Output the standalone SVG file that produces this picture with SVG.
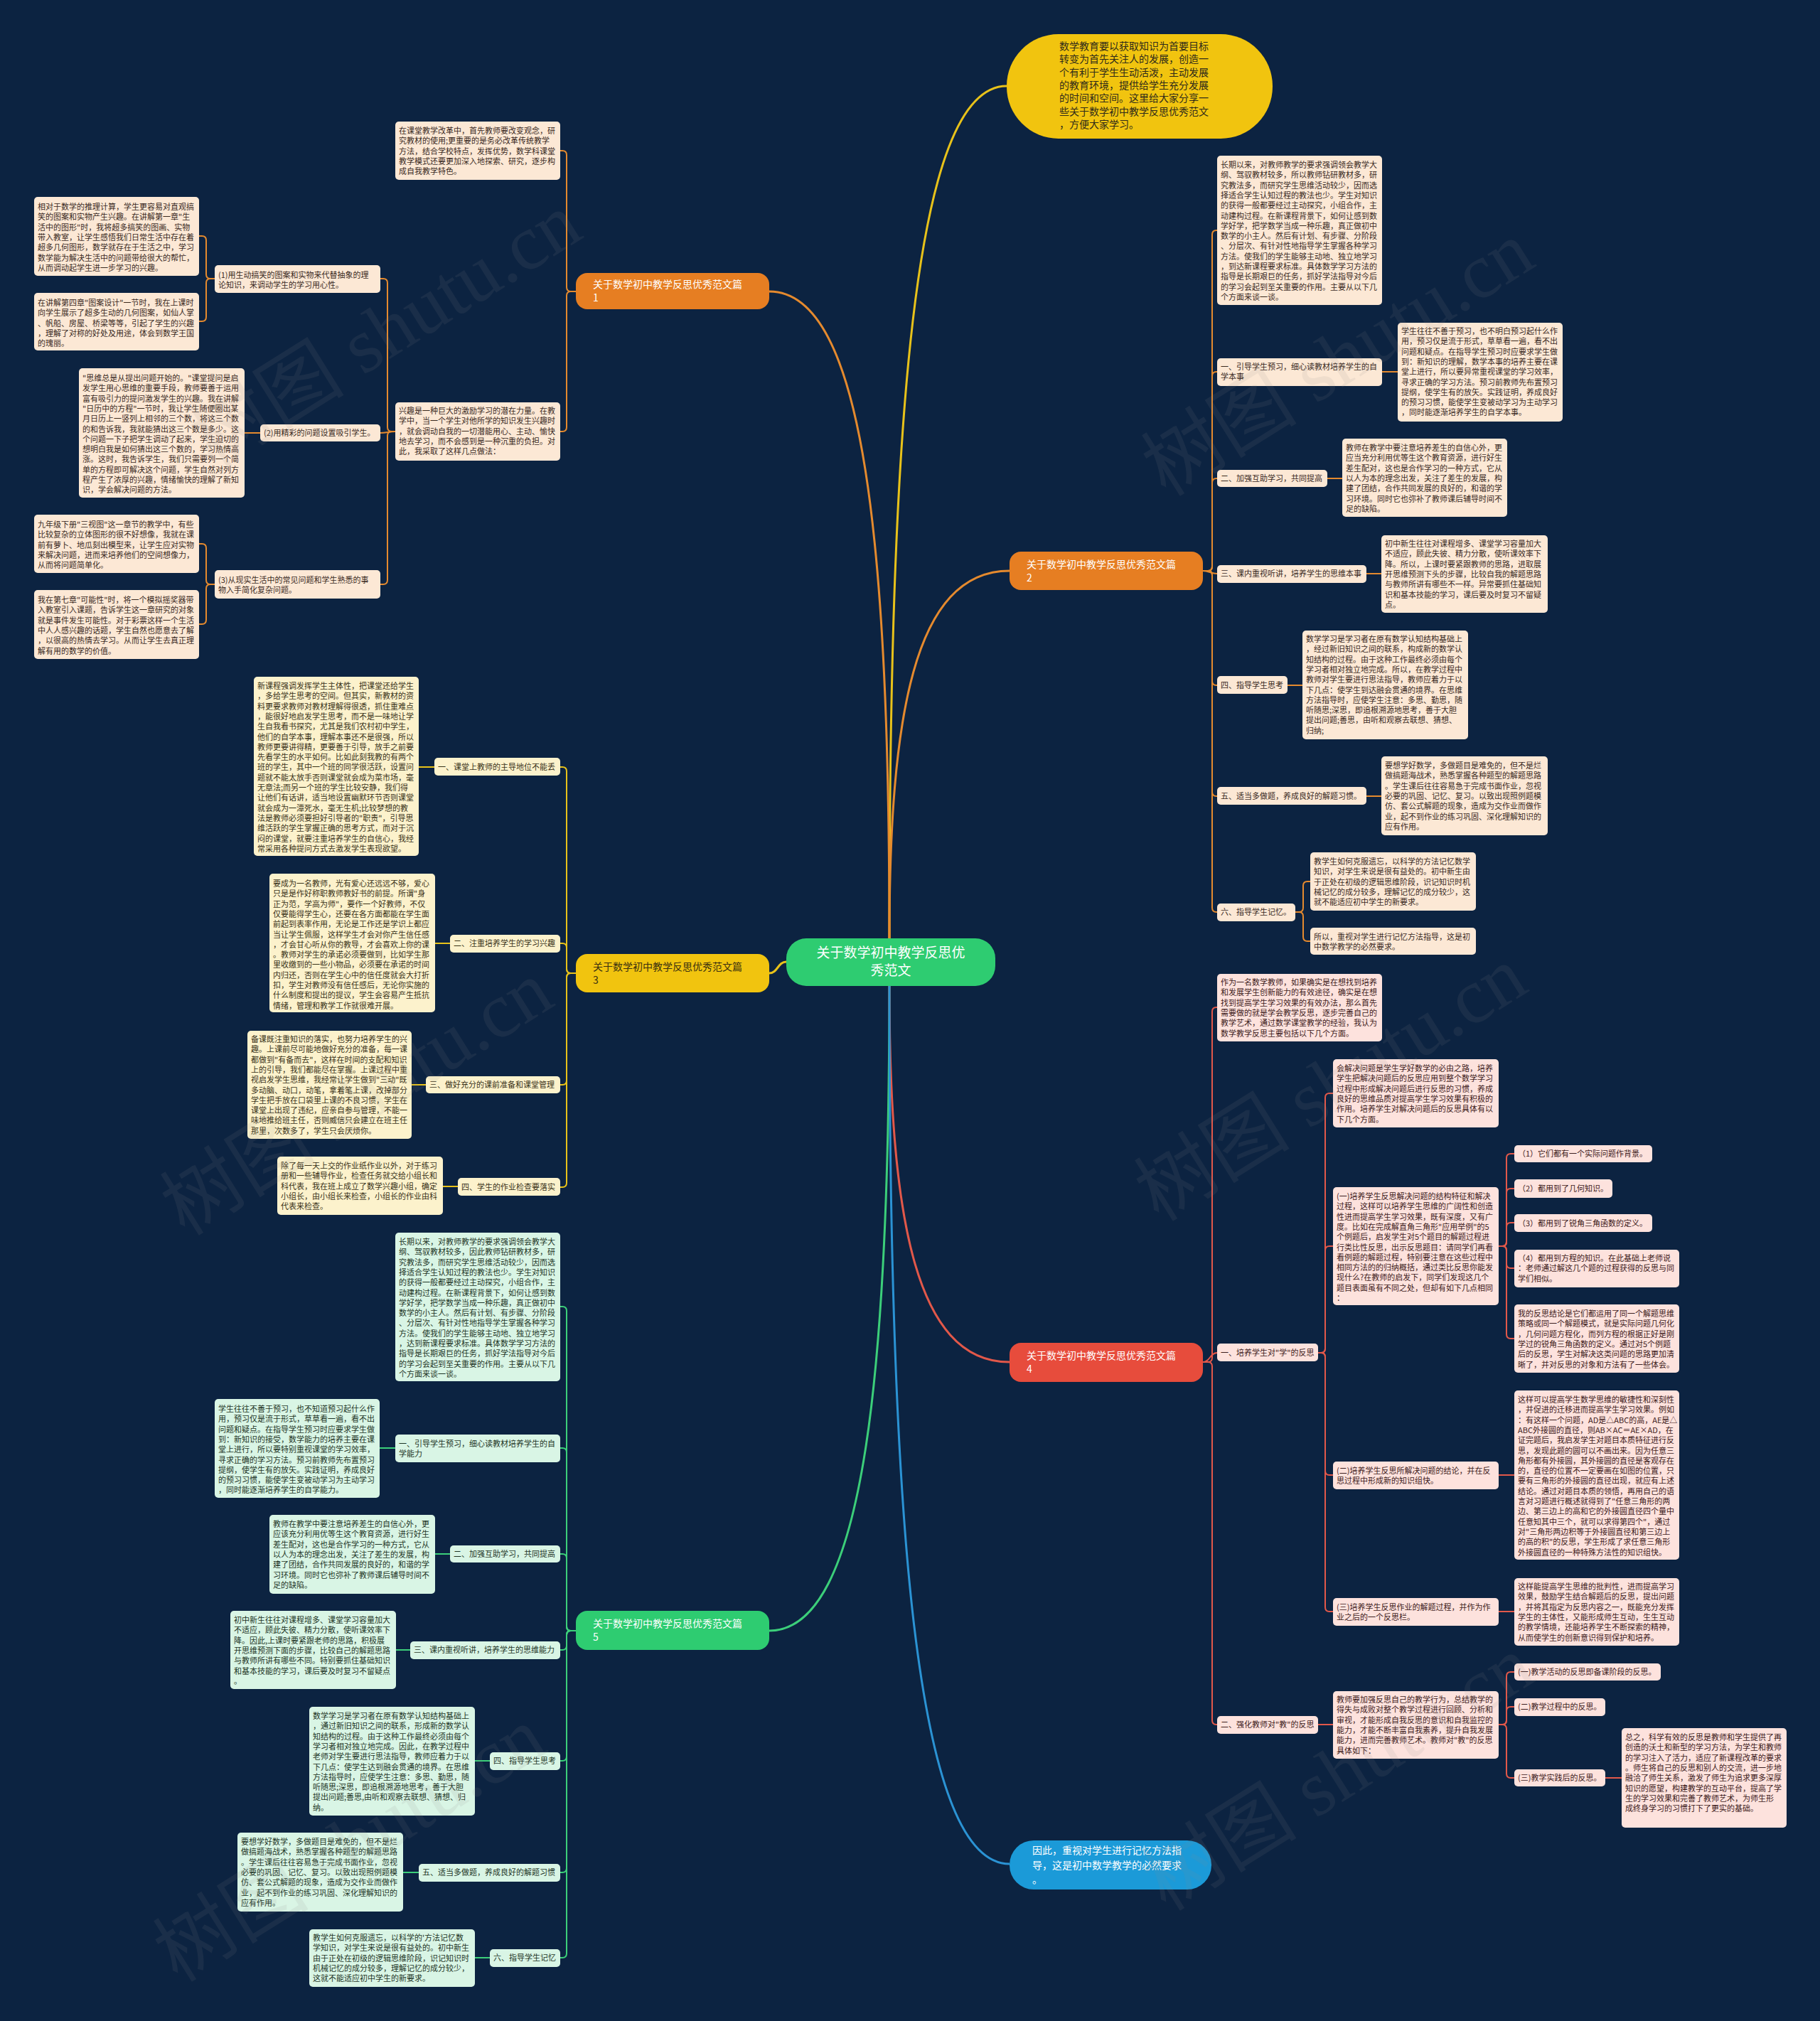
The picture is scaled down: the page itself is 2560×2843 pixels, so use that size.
<svg xmlns="http://www.w3.org/2000/svg" width="2560" height="2843" viewBox="0 0 2560 2843">
<style>
.t{font-family:"Noto Sans CJK SC","Noto Sans",sans-serif;font-size:11px;fill:#3a2a1e}
.tg{fill:#1e3527}
.tr{fill:#3d2020}
.ty{fill:#3a3318}
.bo{fill:#fce8d5}
.by{fill:#fcf2cc}
.br{fill:#fde2dd}
.bg{fill:#d9f5e5}
.n{font-family:"Noto Sans CJK SC","Noto Sans",sans-serif;font-size:14px}
.c{fill:none;stroke-width:2}
.co{stroke:#e58a2e}
.cy{stroke:#e8c21a}
.cr{stroke:#e2584a}
.cg{stroke:#3ccf7a}
.cb{stroke:#2b93d4}
.m{fill:none;stroke-width:3}
.wm{font-family:"Liberation Serif","Noto Sans CJK SC",serif;font-size:110px;fill:#8a8a8a;opacity:0.11}
</style>
<rect x="0" y="0" width="2560" height="2843" fill="#0c2341"/>

<g id="connectors">
<path class="m cy" d="M1251,1322 C1251,601 1284,121 1416,121"/>
<path class="m co" d="M1251,1322 C1251,1009 1285,803 1420,803"/>
<path class="m co" d="M1251,1322 C1251,775 1217,410 1082,410"/>
<path class="m cy" d="M1106,1353 C1094,1353 1094,1369 1082,1369"/>
<path class="m cg" d="M1251,1385 C1251,1920 1217,2294 1082,2294"/>
<path class="m cr" d="M1251,1385 C1251,1704 1285,1916 1420,1916"/>
<path class="m cb" d="M1251,1385 C1251,2120 1285,2622 1420,2622"/>

<path class="c co" d="M1692,803 H1699 Q1705,803 1705,797 V330 Q1705,324 1711,324 H1712"/>
<path class="c co" d="M1692,803 H1699 Q1705,803 1705,797 V529 Q1705,523 1711,523 H1712"/>
<path class="c co" d="M1692,803 H1699 Q1705,803 1705,797 V679 Q1705,673 1711,673 H1712"/>
<path class="c co" d="M1692,803 C1700,803 1704,807 1712,807"/>
<path class="c co" d="M1692,803 H1699 Q1705,803 1705,809 V958 Q1705,964 1711,964 H1712"/>
<path class="c co" d="M1692,803 H1699 Q1705,803 1705,809 V1114 Q1705,1120 1711,1120 H1712"/>
<path class="c co" d="M1692,803 H1699 Q1705,803 1705,809 V1277 Q1705,1283 1711,1283 H1712"/>
<path class="c co" d="M1944,523 H1966 M1867,673 H1888 M1922,807 H1943 M1811,964 H1832 M1922,1120 H1943"/>
<path class="c co" d="M1822,1283 H1827 Q1833,1283 1833,1277 V1246 Q1833,1240 1839,1240 H1843"/>
<path class="c co" d="M1822,1283 H1827 Q1833,1283 1833,1289 V1318 Q1833,1324 1839,1324 H1843"/>

<path class="c co" d="M810,410 H803 Q797,410 797,404 V218 Q797,212 791,212 H788"/>
<path class="c co" d="M810,410 H803 Q797,410 797,416 V601 Q797,607 791,607 H788"/>
<path class="c co" d="M556,607 H551 Q545,607 545,601 V398 Q545,392 539,392 H535"/>
<path class="c co" d="M556,607 C548,607 543,609 535,609"/>
<path class="c co" d="M556,607 H551 Q545,607 545,613 V816 Q545,822 539,822 H535"/>
<path class="c co" d="M302,392 H296 Q290,392 290,386 V338 Q290,332 284,332 H280"/>
<path class="c co" d="M302,392 H296 Q290,392 290,398 V446 Q290,452 284,452 H280"/>
<path class="c co" d="M366,609 H344"/>
<path class="c co" d="M302,822 H296 Q290,822 290,816 V771 Q290,765 284,765 H280"/>
<path class="c co" d="M302,822 H296 Q290,822 290,828 V872 Q290,878 284,878 H280"/>

<path class="c cy" d="M810,1369 H803 Q797,1369 797,1363 V1085 Q797,1079 791,1079 H788"/>
<path class="c cy" d="M810,1369 H803 Q797,1369 797,1363 V1333 Q797,1327 791,1327 H788"/>
<path class="c cy" d="M810,1369 H803 Q797,1369 797,1375 V1520 Q797,1526 791,1526 H788"/>
<path class="c cy" d="M810,1369 H803 Q797,1369 797,1375 V1664 Q797,1670 791,1670 H788"/>
<path class="c cy" d="M611,1079 H589 M633,1327 H612 M599,1526 H579 M644,1669 H623"/>

<path class="c cg" d="M810,2294 H803 Q797,2294 797,2288 V1844 Q797,1838 791,1838 H788"/>
<path class="c cg" d="M810,2294 H803 Q797,2294 797,2288 V2043 Q797,2037 791,2037 H788"/>
<path class="c cg" d="M810,2294 H803 Q797,2294 797,2288 V2192 Q797,2186 791,2186 H788"/>
<path class="c cg" d="M810,2294 H803 Q797,2294 797,2300 V2315 Q797,2321 791,2321 H788"/>
<path class="c cg" d="M810,2294 H803 Q797,2294 797,2300 V2471 Q797,2477 791,2477 H788"/>
<path class="c cg" d="M810,2294 H803 Q797,2294 797,2300 V2628 Q797,2634 791,2634 H788"/>
<path class="c cg" d="M810,2294 H803 Q797,2294 797,2300 V2748 Q797,2754 791,2754 H788"/>
<path class="c cg" d="M556,2037 H534 M633,2186 H612 M577,2321 H557 M689,2477 H668 M589,2634 H567 M689,2754 H668"/>

<path class="c cr" d="M1692,1916 H1699 Q1705,1916 1705,1910 V1423 Q1705,1417 1711,1417 H1712"/>
<path class="c cr" d="M1692,1916 C1702,1916 1702,1903 1712,1903"/>
<path class="c cr" d="M1692,1916 H1699 Q1705,1916 1705,1922 V2420 Q1705,2426 1711,2426 H1712"/>
<path class="c cr" d="M1854,1903 H1858 Q1864,1903 1864,1897 V1544 Q1864,1538 1870,1538 H1875"/>
<path class="c cr" d="M1854,1903 H1858 Q1864,1903 1864,1897 V1759 Q1864,1753 1870,1753 H1875"/>
<path class="c cr" d="M1854,1903 H1858 Q1864,1903 1864,1909 V2069 Q1864,2075 1870,2075 H1875"/>
<path class="c cr" d="M1854,1903 H1858 Q1864,1903 1864,1909 V2261 Q1864,2267 1870,2267 H1875"/>
<path class="c cr" d="M2108,1753 H2113 Q2119,1753 2119,1747 V1629 Q2119,1623 2125,1623 H2130"/>
<path class="c cr" d="M2108,1753 H2113 Q2119,1753 2119,1747 V1678 Q2119,1672 2125,1672 H2130"/>
<path class="c cr" d="M2108,1753 H2113 Q2119,1753 2119,1747 V1726 Q2119,1720 2125,1720 H2130"/>
<path class="c cr" d="M2108,1753 H2113 Q2119,1753 2119,1759 V1778 Q2119,1784 2125,1784 H2130"/>
<path class="c cr" d="M2108,1753 H2113 Q2119,1753 2119,1759 V1877 Q2119,1883 2125,1883 H2130"/>
<path class="c cr" d="M2108,2075 H2130 M2108,2267 H2130 M1854,2426 H1875 M2258,2501 H2281"/>
<path class="c cr" d="M2108,2426 H2113 Q2119,2426 2119,2420 V2358 Q2119,2352 2125,2352 H2130"/>
<path class="c cr" d="M2108,2426 H2113 Q2119,2426 2119,2420 V2407 Q2119,2401 2125,2401 H2130"/>
<path class="c cr" d="M2108,2426 H2113 Q2119,2426 2119,2432 V2495 Q2119,2501 2125,2501 H2130"/>
</g>

<g id="center">
<rect x="1106" y="1320" width="294" height="67" rx="28" fill="#2ecc71"/>
<text class="n" x="1253" y="1347" text-anchor="middle" style="font-size:19px;fill:#ffffff"><tspan x="1253">关于数学初中教学反思优</tspan><tspan x="1253" dy="25">秀范文</tspan></text>
</g>

<g id="intro">
<rect x="1416" y="48" width="374" height="147" rx="73" fill="#f1c40f"/>
<text class="n" x="1490" y="70" style="fill:#2e2a1a"><tspan x="1490">数学教育要以获取知识为首要目标</tspan><tspan x="1490" dy="18.3">转变为首先关注人的发展，创造一</tspan><tspan x="1490" dy="18.3">个有利于学生生动活泼，主动发展</tspan><tspan x="1490" dy="18.3">的教育环境，提供给学生充分发展</tspan><tspan x="1490" dy="18.3">的时间和空间。这里给大家分享一</tspan><tspan x="1490" dy="18.3">些关于数学初中教学反思优秀范文</tspan><tspan x="1490" dy="18.3">，方便大家学习。</tspan></text>
</g>

<g id="ending">
<rect x="1420" y="2589" width="284" height="69" rx="34" fill="#1b9ad8"/>
<text class="n" x="1452" y="2608" style="fill:#ffffff"><tspan x="1452">因此，重视对学生进行记忆方法指</tspan><tspan x="1452" dy="20.5">导，这是初中数学教学的必然要求</tspan><tspan x="1452" dy="20.5">。</tspan></text>
</g>

<g id="b1">
<rect x="810" y="384" width="272" height="51" rx="16" fill="#e67e22"/>
<text class="n" x="834" y="405" style="fill:#ffffff"><tspan x="834">关于数学初中教学反思优秀范文篇</tspan><tspan x="834" dy="19">1</tspan></text>
</g>
<g id="b1-a">
<rect class="bo" x="556" y="171" width="232" height="82" rx="5"/>
<text class="t" x="561" y="188"><tspan x="561">在课堂教学改革中，首先教师要改变观念，研</tspan><tspan x="561" dy="14.3">究教材的使用;更重要的是务必改革传统教学</tspan><tspan x="561" dy="14.3">方法，结合学校特点，发挥优势，数学科课堂</tspan><tspan x="561" dy="14.3">教学模式还要更加深入地探索、研究，逐步构</tspan><tspan x="561" dy="14.3">成自我教学特色。</tspan></text>
</g>
<g id="b1-b">
<rect class="bo" x="556" y="566" width="232" height="82" rx="5"/>
<text class="t" x="561" y="582"><tspan x="561">兴趣是一种巨大的激励学习的潜在力量。在教</tspan><tspan x="561" dy="14.3">学中，当一个学生对他所学的知识发生兴趣时</tspan><tspan x="561" dy="14.3">，就会调动自我的一切潜能用心、主动、愉快</tspan><tspan x="561" dy="14.3">地去学习，而不会感到是一种沉重的负担。对</tspan><tspan x="561" dy="14.3">此，我采取了这样几点做法：</tspan></text>
</g>
<g id="b1-l1">
<rect class="bo" x="302" y="373" width="233" height="39" rx="5"/>
<text class="t" x="307" y="391"><tspan x="307">(1)用生动搞笑的图案和实物来代替抽象的理</tspan><tspan x="307" dy="14.3">论知识，来调动学生的学习用心性。</tspan></text>
</g>
<g id="b1-l2">
<rect class="bo" x="366" y="597" width="169" height="24" rx="5"/>
<text class="t" x="371" y="613">(2)用精彩的问题设置吸引学生。</text>
</g>
<g id="b1-l3">
<rect class="bo" x="302" y="802" width="233" height="40" rx="5"/>
<text class="t" x="307" y="820"><tspan x="307">(3)从现实生活中的常见问题和学生熟悉的事</tspan><tspan x="307" dy="14.3">物入手简化复杂问题。</tspan></text>
</g>
<g id="b1-t1a">
<rect class="bo" x="48" y="277" width="232" height="111" rx="5"/>
<text class="t" x="53" y="295"><tspan x="53">相对于数学的推理计算，学生更容易对直观搞</tspan><tspan x="53" dy="14.3">笑的图案和实物产生兴趣。在讲解第一章"生</tspan><tspan x="53" dy="14.3">活中的图形"时，我将超多搞笑的图画、实物</tspan><tspan x="53" dy="14.3">带入教室，让学生感悟我们日常生活中存在着</tspan><tspan x="53" dy="14.3">超多几何图形，数学就存在于生活之中，学习</tspan><tspan x="53" dy="14.3">数学能为解决生活中的问题带给很大的帮忙，</tspan><tspan x="53" dy="14.3">从而调动起学生进一步学习的兴趣。</tspan></text>
</g>
<g id="b1-t1b">
<rect class="bo" x="48" y="412" width="232" height="81" rx="5"/>
<text class="t" x="53" y="430"><tspan x="53">在讲解第四章"图案设计"一节时，我在上课时</tspan><tspan x="53" dy="14.3">向学生展示了超多生动的几何图案，如仙人掌</tspan><tspan x="53" dy="14.3">、帆船、房屋、桥梁等等，引起了学生的兴趣</tspan><tspan x="53" dy="14.3">，理解了对称的好处及用途，体会到数学王国</tspan><tspan x="53" dy="14.3">的瑰丽。</tspan></text>
</g>
<g id="b1-t2a">
<rect class="bo" x="111" y="518" width="233" height="182" rx="5"/>
<text class="t" x="116" y="536"><tspan x="116">"思维总是从提出问题开始的。"课堂提问是启</tspan><tspan x="116" dy="14.3">发学生用心思维的重要手段，教师要善于运用</tspan><tspan x="116" dy="14.3">富有吸引力的提问激发学生的兴趣。我在讲解</tspan><tspan x="116" dy="14.3">"日历中的方程"一节时，我让学生随便圈出某</tspan><tspan x="116" dy="14.3">月日历上一竖列上相邻的三个数，将这三个数</tspan><tspan x="116" dy="14.3">的和告诉我，我就能猜出这三个数是多少。这</tspan><tspan x="116" dy="14.3">个问题一下子把学生调动了起来，学生迫切的</tspan><tspan x="116" dy="14.3">想明白我是如何猜出这三个数的，学习热情高</tspan><tspan x="116" dy="14.3">涨。这时，我告诉学生，我们只需要列一个简</tspan><tspan x="116" dy="14.3">单的方程即可解决这个问题，学生自然对列方</tspan><tspan x="116" dy="14.3">程产生了浓厚的兴趣，情绪愉快的理解了新知</tspan><tspan x="116" dy="14.3">识，学会解决问题的方法。</tspan></text>
</g>
<g id="b1-t3a">
<rect class="bo" x="48" y="724" width="232" height="82" rx="5"/>
<text class="t" x="53" y="742"><tspan x="53">九年级下册"三视图"这一章节的教学中，有些</tspan><tspan x="53" dy="14.3">比较复杂的立体图形的很不好想像，我就在课</tspan><tspan x="53" dy="14.3">前有萝卜、地瓜刻出模型来，让学生应对实物</tspan><tspan x="53" dy="14.3">来解决问题，进而来培养他们的空间想像力，</tspan><tspan x="53" dy="14.3">从而将问题简单化。</tspan></text>
</g>
<g id="b1-t3b">
<rect class="bo" x="48" y="830" width="232" height="97" rx="5"/>
<text class="t" x="53" y="848"><tspan x="53">我在第七章"可能性"时，将一个模拟摇奖器带</tspan><tspan x="53" dy="14.3">入教室引入课题，告诉学生这一章研究的对象</tspan><tspan x="53" dy="14.3">就是事件发生可能性。对于彩票这样一个生活</tspan><tspan x="53" dy="14.3">中人人感兴趣的话题，学生自然也愿意去了解</tspan><tspan x="53" dy="14.3">，以很高的热情去学习。从而让学生去真正理</tspan><tspan x="53" dy="14.3">解有用的数学的价值。</tspan></text>
</g>

<g id="b2">
<rect x="1420" y="776" width="272" height="54" rx="16" fill="#e67e22"/>
<text class="n" x="1444" y="799" style="fill:#ffffff"><tspan x="1444">关于数学初中教学反思优秀范文篇</tspan><tspan x="1444" dy="19">2</tspan></text>
</g>
<g id="b2-intro">
<rect class="bo" x="1712" y="219" width="232" height="210" rx="5"/>
<text class="t" x="1717" y="236"><tspan x="1717">长期以来，对教师教学的要求强调领会教学大</tspan><tspan x="1717" dy="14.3">纲、驾驭教材较多，所以教师钻研教材多，研</tspan><tspan x="1717" dy="14.3">究教法多，而研究学生思维活动较少，因而选</tspan><tspan x="1717" dy="14.3">择适合学生认知过程的教法也少。学生对知识</tspan><tspan x="1717" dy="14.3">的获得一般都要经过主动探究，小组合作，主</tspan><tspan x="1717" dy="14.3">动建构过程。在新课程背景下，如何让感到数</tspan><tspan x="1717" dy="14.3">学好学，把学数学当成一种乐趣，真正做初中</tspan><tspan x="1717" dy="14.3">数学的小主人。然后有计划、有步骤、分阶段</tspan><tspan x="1717" dy="14.3">、分层次、有针对性地指导学生掌握各种学习</tspan><tspan x="1717" dy="14.3">方法。使我们的学生能够主动地、独立地学习</tspan><tspan x="1717" dy="14.3">，到达新课程要求标准。具体数学学习方法的</tspan><tspan x="1717" dy="14.3">指导是长期艰巨的任务，抓好学法指导对今后</tspan><tspan x="1717" dy="14.3">的学习会起到至关重要的作用。主要从以下几</tspan><tspan x="1717" dy="14.3">个方面来谈一谈。</tspan></text>
</g>
<g id="b2-l1">
<rect class="bo" x="1712" y="504" width="232" height="39" rx="5"/>
<text class="t" x="1717" y="520"><tspan x="1717">一、引导学生预习，细心读教材培养学生的自</tspan><tspan x="1717" dy="14.3">学本事</tspan></text>
</g>
<g id="b2-t1">
<rect class="bo" x="1966" y="454" width="232" height="139" rx="5"/>
<text class="t" x="1971" y="470"><tspan x="1971">学生往往不善于预习，也不明白预习起什么作</tspan><tspan x="1971" dy="14.3">用，预习仅是流于形式，草草看一遍，看不出</tspan><tspan x="1971" dy="14.3">问题和疑点。在指导学生预习时应要求学生做</tspan><tspan x="1971" dy="14.3">到：新知识的理解，数学本事的培养主要在课</tspan><tspan x="1971" dy="14.3">堂上进行，所以要异常重视课堂的学习效率，</tspan><tspan x="1971" dy="14.3">寻求正确的学习方法。预习前教师先布置预习</tspan><tspan x="1971" dy="14.3">提纲，使学生有的放矢。实践证明，养成良好</tspan><tspan x="1971" dy="14.3">的预习习惯，能使学生变被动学习为主动学习</tspan><tspan x="1971" dy="14.3">，同时能逐渐培养学生的自学本事。</tspan></text>
</g>
<g id="b2-l2">
<rect class="bo" x="1712" y="661" width="155" height="24" rx="5"/>
<text class="t" x="1717" y="677">二、加强互助学习，共同提高</text>
</g>
<g id="b2-t2">
<rect class="bo" x="1888" y="617" width="232" height="110" rx="5"/>
<text class="t" x="1893" y="634"><tspan x="1893">教师在教学中要注意培养差生的自信心外，更</tspan><tspan x="1893" dy="14.3">应当充分利用优等生这个教育资源，进行好生</tspan><tspan x="1893" dy="14.3">差生配对，这也是合作学习的一种方式，它从</tspan><tspan x="1893" dy="14.3">以人为本的理念出发，关注了差生的发展，构</tspan><tspan x="1893" dy="14.3">建了团结，合作共同发展的良好的，和谐的学</tspan><tspan x="1893" dy="14.3">习环境。同时它也弥补了教师课后辅导时间不</tspan><tspan x="1893" dy="14.3">足的缺陷。</tspan></text>
</g>
<g id="b2-l3">
<rect class="bo" x="1712" y="795" width="210" height="25" rx="5"/>
<text class="t" x="1717" y="811">三、课内重视听讲，培养学生的思维本事</text>
</g>
<g id="b2-t3">
<rect class="bo" x="1943" y="753" width="234" height="109" rx="5"/>
<text class="t" x="1948" y="769"><tspan x="1948">初中新生往往对课程增多、课堂学习容量加大</tspan><tspan x="1948" dy="14.3">不适应，顾此失彼、精力分散，使听课效率下</tspan><tspan x="1948" dy="14.3">降。所以，上课时要紧跟教师的思路，进取展</tspan><tspan x="1948" dy="14.3">开思维预测下头的步骤，比较自我的解题思路</tspan><tspan x="1948" dy="14.3">与教师所讲有哪些不一样。异常要抓住基础知</tspan><tspan x="1948" dy="14.3">识和基本技能的学习，课后要及时复习不留疑</tspan><tspan x="1948" dy="14.3">点。</tspan></text>
</g>
<g id="b2-l4">
<rect class="bo" x="1712" y="951" width="99" height="25" rx="5"/>
<text class="t" x="1717" y="968">四、指导学生思考</text>
</g>
<g id="b2-t4">
<rect class="bo" x="1832" y="887" width="233" height="153" rx="5"/>
<text class="t" x="1837" y="903"><tspan x="1837">数学学习是学习者在原有数学认知结构基础上</tspan><tspan x="1837" dy="14.3">，经过新旧知识之间的联系，构成新的数学认</tspan><tspan x="1837" dy="14.3">知结构的过程。由于这种工作最终必须由每个</tspan><tspan x="1837" dy="14.3">学习者相对独立地完成。所以，在教学过程中</tspan><tspan x="1837" dy="14.3">教师对学生要进行思法指导，教师应着力于以</tspan><tspan x="1837" dy="14.3">下几点：使学生到达融会贯通的境界。在思维</tspan><tspan x="1837" dy="14.3">方法指导时，应使学生注意：多思、勤思，随</tspan><tspan x="1837" dy="14.3">听随思;深思，即追根溯源地思考，善于大胆</tspan><tspan x="1837" dy="14.3">提出问题;善思，由听和观察去联想、猜想、</tspan><tspan x="1837" dy="14.3">归纳;</tspan></text>
</g>
<g id="b2-l5">
<rect class="bo" x="1712" y="1107" width="210" height="25" rx="5"/>
<text class="t" x="1717" y="1124">五、适当多做题，养成良好的解题习惯。</text>
</g>
<g id="b2-t5">
<rect class="bo" x="1943" y="1064" width="234" height="111" rx="5"/>
<text class="t" x="1948" y="1081"><tspan x="1948">要想学好数学，多做题目是难免的，但不是烂</tspan><tspan x="1948" dy="14.3">做搞题海战术，熟悉掌握各种题型的解题思路</tspan><tspan x="1948" dy="14.3">。学生课后往往容易急于完成书面作业，忽视</tspan><tspan x="1948" dy="14.3">必要的巩固、记忆、复习。以致出现照例题模</tspan><tspan x="1948" dy="14.3">仿、套公式解题的现象，造成为交作业而做作</tspan><tspan x="1948" dy="14.3">业，起不到作业的练习巩固、深化理解知识的</tspan><tspan x="1948" dy="14.3">应有作用。</tspan></text>
</g>
<g id="b2-l6">
<rect class="bo" x="1712" y="1271" width="110" height="25" rx="5"/>
<text class="t" x="1717" y="1287">六、指导学生记忆。</text>
</g>
<g id="b2-t6a">
<rect class="bo" x="1843" y="1199" width="233" height="82" rx="5"/>
<text class="t" x="1848" y="1216"><tspan x="1848">教学生如何克服遗忘，以科学的方法记忆数学</tspan><tspan x="1848" dy="14.3">知识，对学生来说是很有益处的。初中新生由</tspan><tspan x="1848" dy="14.3">于正处在初级的逻辑思维阶段，识记知识时机</tspan><tspan x="1848" dy="14.3">械记忆的成分较多，理解记忆的成分较少，这</tspan><tspan x="1848" dy="14.3">就不能适应初中学生的新要求。</tspan></text>
</g>
<g id="b2-t6b">
<rect class="bo" x="1843" y="1305" width="233" height="38" rx="5"/>
<text class="t" x="1848" y="1322"><tspan x="1848">所以，重视对学生进行记忆方法指导，这是初</tspan><tspan x="1848" dy="14.3">中数学教学的必然要求。</tspan></text>
</g>

<g id="b3">
<rect x="810" y="1342" width="272" height="54" rx="16" fill="#f1c40f"/>
<text class="n" x="834" y="1365" style="fill:#3a3010"><tspan x="834">关于数学初中教学反思优秀范文篇</tspan><tspan x="834" dy="19">3</tspan></text>
</g>
<g id="b3-t1">
<rect class="by" x="357" y="952" width="232" height="252" rx="5"/>
<text class="t ty" x="362" y="969"><tspan x="362">新课程强调发挥学生主体性，把课堂还给学生</tspan><tspan x="362" dy="14.3">，多给学生思考的空间。但其实，新教材的资</tspan><tspan x="362" dy="14.3">料更要求教师对教材理解得很透，抓住重难点</tspan><tspan x="362" dy="14.3">，能很好地启发学生思考，而不是一味地让学</tspan><tspan x="362" dy="14.3">生自我看书探究，尤其是我们农村初中学生，</tspan><tspan x="362" dy="14.3">他们的自学本事，理解本事还不是很强，所以</tspan><tspan x="362" dy="14.3">教师更要讲得精，更要善于引导，放手之前要</tspan><tspan x="362" dy="14.3">先看学生的水平如何。比如此刻我教的有两个</tspan><tspan x="362" dy="14.3">班的学生，其中一个班的同学很活跃，设置问</tspan><tspan x="362" dy="14.3">题就不能太放手否则课堂就会成为菜市场，毫</tspan><tspan x="362" dy="14.3">无章法;而另一个班的学生比较安静，我们得</tspan><tspan x="362" dy="14.3">让他们有话讲，适当地设置幽默环节否则课堂</tspan><tspan x="362" dy="14.3">就会成为一潭死水，毫无生机;比较梦想的教</tspan><tspan x="362" dy="14.3">法是教师必须要担好引导者的"职责"，引导思</tspan><tspan x="362" dy="14.3">维活跃的学生掌握正确的思考方式，而对于沉</tspan><tspan x="362" dy="14.3">闷的课堂，就要注重培养学生的自信心，我经</tspan><tspan x="362" dy="14.3">常采用各种提问方式去激发学生表现欲望。</tspan></text>
</g>
<g id="b3-l1">
<rect class="by" x="611" y="1066" width="177" height="25" rx="5"/>
<text class="t ty" x="616" y="1083">一、课堂上教师的主导地位不能丢</text>
</g>
<g id="b3-t2">
<rect class="by" x="379" y="1229" width="233" height="195" rx="5"/>
<text class="t ty" x="384" y="1247"><tspan x="384">要成为一名教师，光有爱心还远远不够，爱心</tspan><tspan x="384" dy="14.3">只是是作好称职教师教好书的前提。所谓"身</tspan><tspan x="384" dy="14.3">正为范，学高为师"，要作一个好教师，不仅</tspan><tspan x="384" dy="14.3">仅要能得学生心，还要在各方面都能在学生面</tspan><tspan x="384" dy="14.3">前起到表率作用，无论是工作还是学识上都应</tspan><tspan x="384" dy="14.3">当让学生佩服，这样学生才会对你产生信任感</tspan><tspan x="384" dy="14.3">，才会甘心听从你的教导，才会喜欢上你的课</tspan><tspan x="384" dy="14.3">。教师对学生的承诺必须要做到，比如学生那</tspan><tspan x="384" dy="14.3">里收缴到的一些小物品，必须要在承诺的时间</tspan><tspan x="384" dy="14.3">内归还，否则在学生心中的信任度就会大打折</tspan><tspan x="384" dy="14.3">扣，学生对教师没有信任感后，无论你实施的</tspan><tspan x="384" dy="14.3">什么制度和提出的提议，学生会容易产生抵抗</tspan><tspan x="384" dy="14.3">情绪，管理和教学工作就很难开展。</tspan></text>
</g>
<g id="b3-l2">
<rect class="by" x="633" y="1315" width="155" height="25" rx="5"/>
<text class="t ty" x="638" y="1331">二、注重培养学生的学习兴趣</text>
</g>
<g id="b3-t3">
<rect class="by" x="348" y="1450" width="231" height="152" rx="5"/>
<text class="t ty" x="353" y="1466"><tspan x="353">备课既注重知识的落实，也努力培养学生的兴</tspan><tspan x="353" dy="14.3">趣。上课前尽可能地做好充分的准备，每一课</tspan><tspan x="353" dy="14.3">都做到"有备而去"，这样在时间的支配和知识</tspan><tspan x="353" dy="14.3">上的引导，我们都能尽在掌握。上课过程中重</tspan><tspan x="353" dy="14.3">视启发学生思维，我经常让学生做到"三动"既</tspan><tspan x="353" dy="14.3">多动脑、动口，动笔，拿着笔上课，改掉部分</tspan><tspan x="353" dy="14.3">学生把手放在口袋里上课的不良习惯，学生在</tspan><tspan x="353" dy="14.3">课堂上出现了违纪，应亲自参与管理，不能一</tspan><tspan x="353" dy="14.3">味地推给班主任，否则威信只会建立在班主任</tspan><tspan x="353" dy="14.3">那里，次数多了，学生只会厌烦你。</tspan></text>
</g>
<g id="b3-l3">
<rect class="by" x="599" y="1514" width="189" height="24" rx="5"/>
<text class="t ty" x="604" y="1530">三、做好充分的课前准备和课堂管理</text>
</g>
<g id="b3-t4">
<rect class="by" x="390" y="1627" width="233" height="82" rx="5"/>
<text class="t ty" x="395" y="1644"><tspan x="395">除了每一天上交的作业纸作业以外，对于练习</tspan><tspan x="395" dy="14.3">册和一些辅导作业，检查任务就交给小组长和</tspan><tspan x="395" dy="14.3">科代表，我在班上成立了数学兴趣小组，确定</tspan><tspan x="395" dy="14.3">小组长，由小组长来检查，小组长的作业由科</tspan><tspan x="395" dy="14.3">代表来检查。</tspan></text>
</g>
<g id="b3-l4">
<rect class="by" x="644" y="1657" width="144" height="25" rx="5"/>
<text class="t ty" x="649" y="1674">四、学生的作业检查要落实</text>
</g>

<g id="b4">
<rect x="1420" y="1889" width="272" height="55" rx="16" fill="#e74c3c"/>
<text class="n" x="1444" y="1912" style="fill:#ffffff"><tspan x="1444">关于数学初中教学反思优秀范文篇</tspan><tspan x="1444" dy="19">4</tspan></text>
</g>
<g id="b4-intro">
<rect class="br" x="1712" y="1370" width="232" height="95" rx="5"/>
<text class="t tr" x="1717" y="1386"><tspan x="1717">作为一名数学教师，如果确实是在想找到培养</tspan><tspan x="1717" dy="14.3">和发展学生创新能力的有效途径，确实是在想</tspan><tspan x="1717" dy="14.3">找到提高学生学习效果的有效办法，那么首先</tspan><tspan x="1717" dy="14.3">需要做的就是学会教学反思，逐步完善自己的</tspan><tspan x="1717" dy="14.3">教学艺术，通过数学课堂教学的经验，我认为</tspan><tspan x="1717" dy="14.3">数学教学反思主要包括以下几个方面。</tspan></text>
</g>
<g id="b4-l1">
<rect class="br" x="1712" y="1890" width="142" height="25" rx="5"/>
<text class="t tr" x="1717" y="1907">一、培养学生对"学"的反思</text>
</g>
<g id="b4-a0">
<rect class="br" x="1875" y="1490" width="233" height="96" rx="5"/>
<text class="t tr" x="1880" y="1507"><tspan x="1880">会解决问题是学生学好数学的必由之路，培养</tspan><tspan x="1880" dy="14.3">学生把解决问题后的反思应用到整个数学学习</tspan><tspan x="1880" dy="14.3">过程中形成解决问题后进行反思的习惯，养成</tspan><tspan x="1880" dy="14.3">良好的思维品质对提高学生学习效果有积极的</tspan><tspan x="1880" dy="14.3">作用。培养学生对解决问题后的反思具体有以</tspan><tspan x="1880" dy="14.3">下几个方面。</tspan></text>
</g>
<g id="b4-a1">
<rect class="br" x="1875" y="1670" width="233" height="166" rx="5"/>
<text class="t tr" x="1880" y="1687"><tspan x="1880">(一)培养学生反思解决问题的结构特征和解决</tspan><tspan x="1880" dy="14.3">过程，这样可以培养学生思维的广阔性和创造</tspan><tspan x="1880" dy="14.3">性进而提高学生学习效果，既有深度，又有广</tspan><tspan x="1880" dy="14.3">度。比如在完成解直角三角形"应用举例"的5</tspan><tspan x="1880" dy="14.3">个例题后，启发学生对5个题目的解题过程进</tspan><tspan x="1880" dy="14.3">行类比性反思，出示反思题目：请同学们再看</tspan><tspan x="1880" dy="14.3">看例题的解题过程，特别要注意在这些过程中</tspan><tspan x="1880" dy="14.3">相同方法的的归纳概括，通过类比反思你能发</tspan><tspan x="1880" dy="14.3">现什么?在教师的启发下，同学们发现这几个</tspan><tspan x="1880" dy="14.3">题目表面虽有不同之处，但却有如下几点相同</tspan><tspan x="1880" dy="14.3">：</tspan></text>
</g>
<g id="b4-c1">
<rect class="br" x="2130" y="1611" width="194" height="24" rx="5"/>
<text class="t tr" x="2135" y="1627">（1）它们都有一个实际问题作背景。</text>
</g>
<g id="b4-c2">
<rect class="br" x="2130" y="1659" width="138" height="26" rx="5"/>
<text class="t tr" x="2135" y="1676">（2）都用到了几何知识。</text>
</g>
<g id="b4-c3">
<rect class="br" x="2130" y="1708" width="194" height="25" rx="5"/>
<text class="t tr" x="2135" y="1725">（3）都用到了锐角三角函数的定义。</text>
</g>
<g id="b4-c4">
<rect class="br" x="2130" y="1758" width="232" height="53" rx="5"/>
<text class="t tr" x="2135" y="1774"><tspan x="2135">（4）都用到方程的知识。在此基础上老师说</tspan><tspan x="2135" dy="14.3">：老师通过解这几个题的过程获得的反思与同</tspan><tspan x="2135" dy="14.3">学们相似。</tspan></text>
</g>
<g id="b4-c5">
<rect class="br" x="2130" y="1835" width="232" height="96" rx="5"/>
<text class="t tr" x="2135" y="1852"><tspan x="2135">我的反思结论是它们都运用了同一个解题思维</tspan><tspan x="2135" dy="14.3">策略或同一个解题模式，就是实际问题几何化</tspan><tspan x="2135" dy="14.3">，几何问题方程化，而列方程的根据正好是刚</tspan><tspan x="2135" dy="14.3">学过的锐角三角函数的定义。通过对5个例题</tspan><tspan x="2135" dy="14.3">后的反思，学生对解决这类问题的思路更加清</tspan><tspan x="2135" dy="14.3">晰了，并对反思的对象和方法有了一些体会。</tspan></text>
</g>
<g id="b4-a2">
<rect class="br" x="1875" y="2056" width="233" height="39" rx="5"/>
<text class="t tr" x="1880" y="2073"><tspan x="1880">(二)培养学生反思所解决问题的结论，并在反</tspan><tspan x="1880" dy="14.3">思过程中形成新的知识组快。</tspan></text>
</g>
<g id="b4-a2t">
<rect class="br" x="2130" y="1956" width="232" height="238" rx="5"/>
<text class="t tr" x="2135" y="1973"><tspan x="2135">这样可以提高学生数学思维的敏捷性和深刻性</tspan><tspan x="2135" dy="14.3">，并促进的迁移进而提高学生学习效果。例如</tspan><tspan x="2135" dy="14.3">：有这样一个问题，AD是△ABC的高，AE是△</tspan><tspan x="2135" dy="14.3">ABC外接圆的直径，则AB×AC＝AE×AD，在</tspan><tspan x="2135" dy="14.3">证完题后，我启发学生对题目本质特征进行反</tspan><tspan x="2135" dy="14.3">思，发现此题的圆可以不画出来。因为任意三</tspan><tspan x="2135" dy="14.3">角形都有外接圆，其外接圆的直径是客观存在</tspan><tspan x="2135" dy="14.3">的，直径的位置不一定要画在如图的位置，只</tspan><tspan x="2135" dy="14.3">要有三角形的外接圆的直径出现，就应有上述</tspan><tspan x="2135" dy="14.3">结论。通过对题目本质的领悟，再用自己的语</tspan><tspan x="2135" dy="14.3">言对习题进行概述就得到了"任意三角形的两</tspan><tspan x="2135" dy="14.3">边、第三边上的高和它的外接圆直径四个量中</tspan><tspan x="2135" dy="14.3">任意知其中三个，就可以求得第四个"，通过</tspan><tspan x="2135" dy="14.3">对"三角形两边积等于外接圆直径和第三边上</tspan><tspan x="2135" dy="14.3">的高的积"的反思，学生形成了求任意三角形</tspan><tspan x="2135" dy="14.3">外接圆直径的一种特殊方法性的知识组快。</tspan></text>
</g>
<g id="b4-a3">
<rect class="br" x="1875" y="2248" width="233" height="39" rx="5"/>
<text class="t tr" x="1880" y="2265"><tspan x="1880">(三)培养学生反思作业的解题过程，并作为作</tspan><tspan x="1880" dy="14.3">业之后的一个反思栏。</tspan></text>
</g>
<g id="b4-a3t">
<rect class="br" x="2130" y="2220" width="232" height="95" rx="5"/>
<text class="t tr" x="2135" y="2236"><tspan x="2135">这样能提高学生思维的批判性，进而提高学习</tspan><tspan x="2135" dy="14.3">效果，鼓励学生结合解题后的反思，提出问题</tspan><tspan x="2135" dy="14.3">，并将其指定为反思内容之一，既能充分发挥</tspan><tspan x="2135" dy="14.3">学生的主体性，又能形成师生互动，生生互动</tspan><tspan x="2135" dy="14.3">的教学情境，还能培养学生不断探索的精神，</tspan><tspan x="2135" dy="14.3">从而使学生的创新意识得到保护和培养。</tspan></text>
</g>
<g id="b4-l2">
<rect class="br" x="1712" y="2414" width="142" height="25" rx="5"/>
<text class="t tr" x="1717" y="2430">二、强化教师对"教"的反思</text>
</g>
<g id="b4-b0">
<rect class="br" x="1875" y="2379" width="233" height="95" rx="5"/>
<text class="t tr" x="1880" y="2395"><tspan x="1880">教师要加强反思自己的教学行为，总结教学的</tspan><tspan x="1880" dy="14.3">得失与成败对整个教学过程进行回顾、分析和</tspan><tspan x="1880" dy="14.3">审视，才能形成自我反思的意识和自我监控的</tspan><tspan x="1880" dy="14.3">能力，才能不断丰富自我素养，提升自我发展</tspan><tspan x="1880" dy="14.3">能力，进而完善教师艺术。教师对"教"的反思</tspan><tspan x="1880" dy="14.3">具体如下：</tspan></text>
</g>
<g id="b4-d1">
<rect class="br" x="2130" y="2340" width="206" height="24" rx="5"/>
<text class="t tr" x="2135" y="2356">(一)教学活动的反思即备课阶段的反思。</text>
</g>
<g id="b4-d2">
<rect class="br" x="2130" y="2389" width="128" height="25" rx="5"/>
<text class="t tr" x="2135" y="2405">(二)教学过程中的反思。</text>
</g>
<g id="b4-d3">
<rect class="br" x="2130" y="2489" width="128" height="24" rx="5"/>
<text class="t tr" x="2135" y="2505">(三)教学实践后的反思。</text>
</g>
<g id="b4-d3t">
<rect class="br" x="2281" y="2431" width="232" height="140" rx="5"/>
<text class="t tr" x="2286" y="2448"><tspan x="2286">总之，科学有效的反思是教师和学生提供了再</tspan><tspan x="2286" dy="14.3">创造的沃土和新型的学习方法，为学生和教师</tspan><tspan x="2286" dy="14.3">的学习注入了活力，适应了新课程改革的要求</tspan><tspan x="2286" dy="14.3">。师生将自己的反思和别人的交流，进一步地</tspan><tspan x="2286" dy="14.3">融洽了师生关系，激发了师生为追求更多深厚</tspan><tspan x="2286" dy="14.3">知识的愿望，构建教学的互动平台，提高了学</tspan><tspan x="2286" dy="14.3">生的学习效果和完善了教师艺术，为师生形</tspan><tspan x="2286" dy="14.3">成终身学习的习惯打下了更实的基础。</tspan></text>
</g>

<g id="b5">
<rect x="810" y="2266" width="272" height="55" rx="16" fill="#2ecc71"/>
<text class="n" x="834" y="2289" style="fill:#ffffff"><tspan x="834">关于数学初中教学反思优秀范文篇</tspan><tspan x="834" dy="19">5</tspan></text>
</g>
<g id="b5-intro">
<rect class="bg" x="556" y="1734" width="232" height="209" rx="5"/>
<text class="t tg" x="561" y="1751"><tspan x="561">长期以来，对教师教学的要求强调领会教学大</tspan><tspan x="561" dy="14.3">纲、驾驭教材较多，因此教师钻研教材多，研</tspan><tspan x="561" dy="14.3">究教法多，而研究学生思维活动较少，因而选</tspan><tspan x="561" dy="14.3">择适合学生认知过程的教法也少。学生对知识</tspan><tspan x="561" dy="14.3">的获得一般都要经过主动探究，小组合作，主</tspan><tspan x="561" dy="14.3">动建构过程。在新课程背景下，如何让感到数</tspan><tspan x="561" dy="14.3">学好学，把学数学当成一种乐趣，真正做初中</tspan><tspan x="561" dy="14.3">数学的小主人。然后有计划、有步骤、分阶段</tspan><tspan x="561" dy="14.3">、分层次、有针对性地指导学生掌握各种学习</tspan><tspan x="561" dy="14.3">方法。使我们的学生能够主动地、独立地学习</tspan><tspan x="561" dy="14.3">，达到新课程要求标准。具体数学学习方法的</tspan><tspan x="561" dy="14.3">指导是长期艰巨的任务，抓好学法指导对今后</tspan><tspan x="561" dy="14.3">的学习会起到至关重要的作用。主要从以下几</tspan><tspan x="561" dy="14.3">个方面来谈一谈。</tspan></text>
</g>
<g id="b5-l1">
<rect class="bg" x="556" y="2018" width="232" height="39" rx="5"/>
<text class="t tg" x="561" y="2035"><tspan x="561">一、引导学生预习，细心读教材培养学生的自</tspan><tspan x="561" dy="14.3">学能力</tspan></text>
</g>
<g id="b5-t1">
<rect class="bg" x="302" y="1968" width="232" height="139" rx="5"/>
<text class="t tg" x="307" y="1986"><tspan x="307">学生往往不善于预习，也不知道预习起什么作</tspan><tspan x="307" dy="14.3">用，预习仅是流于形式，草草看一遍，看不出</tspan><tspan x="307" dy="14.3">问题和疑点。在指导学生预习时应要求学生做</tspan><tspan x="307" dy="14.3">到：新知识的接受，数学能力的培养主要在课</tspan><tspan x="307" dy="14.3">堂上进行，所以要特别重视课堂的学习效率，</tspan><tspan x="307" dy="14.3">寻求正确的学习方法。预习前教师先布置预习</tspan><tspan x="307" dy="14.3">提纲，使学生有的放矢。实践证明，养成良好</tspan><tspan x="307" dy="14.3">的预习习惯，能使学生变被动学习为主动学习</tspan><tspan x="307" dy="14.3">，同时能逐渐培养学生的自学能力。</tspan></text>
</g>
<g id="b5-l2">
<rect class="bg" x="633" y="2174" width="155" height="24" rx="5"/>
<text class="t tg" x="638" y="2190">二、加强互助学习，共同提高</text>
</g>
<g id="b5-t2">
<rect class="bg" x="379" y="2131" width="233" height="111" rx="5"/>
<text class="t tg" x="384" y="2148"><tspan x="384">教师在教学中要注意培养差生的自信心外，更</tspan><tspan x="384" dy="14.3">应该充分利用优等生这个教育资源，进行好生</tspan><tspan x="384" dy="14.3">差生配对，这也是合作学习的一种方式，它从</tspan><tspan x="384" dy="14.3">以人为本的理念出发，关注了差生的发展，构</tspan><tspan x="384" dy="14.3">建了团结，合作共同发展的良好的，和谐的学</tspan><tspan x="384" dy="14.3">习环境。同时它也弥补了教师课后辅导时间不</tspan><tspan x="384" dy="14.3">足的缺陷。</tspan></text>
</g>
<g id="b5-t3">
<rect class="bg" x="324" y="2266" width="233" height="110" rx="5"/>
<text class="t tg" x="329" y="2283"><tspan x="329">初中新生往往对课程增多、课堂学习容量加大</tspan><tspan x="329" dy="14.3">不适应，顾此失彼、精力分散，使听课效率下</tspan><tspan x="329" dy="14.3">降。因此,上课时要紧跟老师的思路，积极展</tspan><tspan x="329" dy="14.3">开思维预测下面的步骤，比较自己的解题思路</tspan><tspan x="329" dy="14.3">与教师所讲有哪些不同。特别要抓住基础知识</tspan><tspan x="329" dy="14.3">和基本技能的学习，课后要及时复习不留疑点</tspan><tspan x="329" dy="14.3">。</tspan></text>
</g>
<g id="b5-l3">
<rect class="bg" x="577" y="2309" width="211" height="25" rx="5"/>
<text class="t tg" x="582" y="2325">三、课内重视听讲，培养学生的思维能力</text>
</g>
<g id="b5-t4">
<rect class="bg" x="435" y="2401" width="233" height="153" rx="5"/>
<text class="t tg" x="440" y="2418"><tspan x="440">数学学习是学习者在原有数学认知结构基础上</tspan><tspan x="440" dy="14.3">，通过新旧知识之间的联系，形成新的数学认</tspan><tspan x="440" dy="14.3">知结构的过程。由于这种工作最终必须由每个</tspan><tspan x="440" dy="14.3">学习者相对独立地完成。因此，在教学过程中</tspan><tspan x="440" dy="14.3">老师对学生要进行思法指导，教师应着力于以</tspan><tspan x="440" dy="14.3">下几点：使学生达到融会贯通的境界。在思维</tspan><tspan x="440" dy="14.3">方法指导时，应使学生注意：多思、勤思，随</tspan><tspan x="440" dy="14.3">听随思;深思，即追根溯源地思考，善于大胆</tspan><tspan x="440" dy="14.3">提出问题;善思,由听和观察去联想、猜想、归</tspan><tspan x="440" dy="14.3">纳。</tspan></text>
</g>
<g id="b5-l4">
<rect class="bg" x="689" y="2465" width="99" height="25" rx="5"/>
<text class="t tg" x="694" y="2481">四、指导学生思考</text>
</g>
<g id="b5-t5">
<rect class="bg" x="334" y="2578" width="233" height="111" rx="5"/>
<text class="t tg" x="339" y="2595"><tspan x="339">要想学好数学，多做题目是难免的，但不是烂</tspan><tspan x="339" dy="14.3">做搞题海战术，熟悉掌握各种题型的解题思路</tspan><tspan x="339" dy="14.3">。学生课后往往容易急于完成书面作业，忽视</tspan><tspan x="339" dy="14.3">必要的巩固、记忆、复习。以致出现照例题模</tspan><tspan x="339" dy="14.3">仿、套公式解题的现象，造成为交作业而做作</tspan><tspan x="339" dy="14.3">业，起不到作业的练习巩固、深化理解知识的</tspan><tspan x="339" dy="14.3">应有作用。</tspan></text>
</g>
<g id="b5-l5">
<rect class="bg" x="589" y="2622" width="199" height="25" rx="5"/>
<text class="t tg" x="594" y="2638">五、适当多做题，养成良好的解题习惯</text>
</g>
<g id="b5-t6">
<rect class="bg" x="435" y="2714" width="233" height="81" rx="5"/>
<text class="t tg" x="440" y="2730"><tspan x="440">教学生如何克服遗忘，以科学的'方法记忆数</tspan><tspan x="440" dy="14.3">学知识，对学生来说是很有益处的。初中新生</tspan><tspan x="440" dy="14.3">由于正处在初级的逻辑思维阶段，识记知识时</tspan><tspan x="440" dy="14.3">机械记忆的成分较多，理解记忆的成分较少，</tspan><tspan x="440" dy="14.3">这就不能适应初中学生的新要求。</tspan></text>
</g>
<g id="b5-l6">
<rect class="bg" x="689" y="2742" width="99" height="25" rx="5"/>
<text class="t tg" x="694" y="2758">六、指导学生记忆</text>
</g>

<g id="watermarks">
<text class="wm" transform="translate(300,660) rotate(-32)">树图 shutu.cn</text>
<text class="wm" transform="translate(1640,700) rotate(-32)">树图 shutu.cn</text>
<text class="wm" transform="translate(260,1740) rotate(-32)">树图 shutu.cn</text>
<text class="wm" transform="translate(1630,1720) rotate(-32)">树图 shutu.cn</text>
<text class="wm" transform="translate(250,2790) rotate(-32)">树图 shutu.cn</text>
<text class="wm" transform="translate(1640,2690) rotate(-32)">树图 shutu.cn</text>
</g>
</svg>
